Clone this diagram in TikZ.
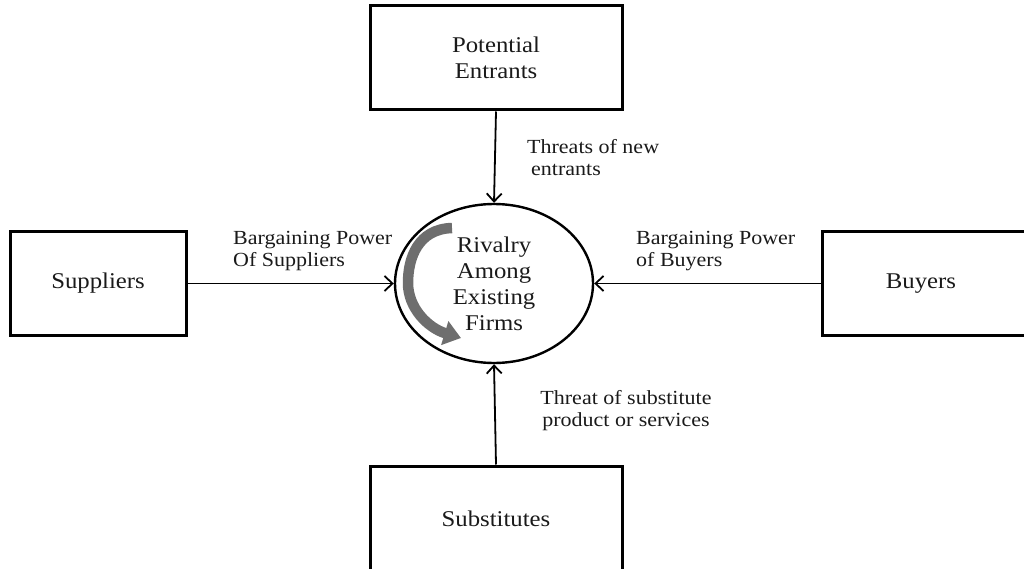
\documentclass[tikz,border=0pt]{standalone}
\usepackage{fontspec}
\setmainfont{Liberation Serif}[FakeStretch=1.1]
\usetikzlibrary{arrows.meta,shapes.geometric}
\definecolor{swirl}{HTML}{6E6E6E}
\definecolor{ink}{HTML}{1A1A1A}
\begin{document}
\begin{tikzpicture}[x=1pt,y=-1pt,
  forcebox/.style={draw=black, line width=3pt, inner sep=0pt, align=center,
    text=ink, font=\fontsize{22.5}{26}\selectfont},
  rivalry/.style={draw=black, ellipse, line width=2.4pt, inner sep=0pt,
    minimum width=198pt, minimum height=159pt, align=center,
    text=ink, font=\fontsize{22.5}{26}\selectfont},
  conn/.style={draw=black, line width=1.8pt, -{Straight Barb[length=8pt,width=15pt]}},
  lbl/.style={inner sep=0pt, text=ink, font=\fontsize{20}{22}\selectfont}
]
\useasboundingbox (0,0) rectangle (1024,569);

% the five forces
\node[forcebox, minimum width=252pt, minimum height=104pt] (entr) at (496,58) {Potential\\Entrants};
\node[forcebox, minimum width=176pt, minimum height=103pt] (sup) at (98,283.5) {Suppliers};
\node[forcebox, minimum width=210pt, minimum height=103pt] (buy) at (927,283.5) {\hspace*{-12pt}Buyers};
\node[forcebox, minimum width=252pt, minimum height=106pt] (subst) at (496,519) {Substitutes};
\node[rivalry] (riv) at (494,283.5) {Rivalry\\Among\\Existing\\Firms};

% circular rivalry arrow inside the ellipse
\draw[line width=10.5pt, draw=swirl, -{Triangle[length=17pt,width=24pt]}]
  (452,228) .. controls (418,229) and (408,258) .. (408,283)
  .. controls (408,308) and (428,328) .. (461,338);

% connectors
\draw[conn] (entr.south) -- (riv.north);
\draw[conn] (sup.east) -- (riv.west);
\draw[conn] (buy.west) -- (riv.east);
\draw[conn] (subst.north) -- (riv.south);

% connector labels
\node[lbl, anchor=west, align=left] (lentr) at (527,158) {Threats of new\\\hspace*{4pt}entrants};
\node[lbl, anchor=west, align=left] (lsup) at (233,251) {Bargaining Power\\Of Suppliers};
\node[lbl, anchor=west, align=left] (lbuy) at (636,251) {Bargaining Power\\of Buyers};
\node[lbl, align=center] (lsubst) at (626,411) {Threat of substitute\\product or services};
\end{tikzpicture}
\end{document}
